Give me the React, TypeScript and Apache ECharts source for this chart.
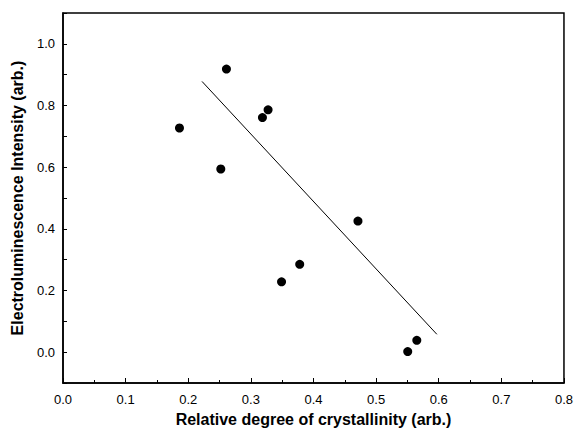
import React, { useEffect, useRef } from "react";
import * as echarts from "echarts";

const crystallinity = [0.186, 0.261, 0.3275, 0.3185, 0.252, 0.471, 0.378, 0.349, 0.565, 0.5505];
const intensity = [0.727, 0.918, 0.786, 0.761, 0.594, 0.425, 0.285, 0.228, 0.0385, 0.002];
const fitX = [0.222, 0.597];
const fitY = [0.878, 0.058];

const FONT = "'Liberation Sans', Arial, sans-serif";

export default function App() {
  const ref = useRef<HTMLDivElement>(null);
  useEffect(() => {
    document.body.style.margin = "0";
    if (!ref.current) return;
    const chart = echarts.init(ref.current, undefined, { renderer: "svg" });
    const points = crystallinity.map((x, i) => [x, intensity[i]]);
    const fit = fitX.map((x, i) => [x, fitY[i]]);
    chart.setOption({
      animation: false,
      backgroundColor: "#fff",
      textStyle: { fontFamily: FONT },
      grid: {
        left: 63,
        right: 9,
        top: 13,
        bottom: 45,
        show: true,
        borderColor: "#000",
        borderWidth: 1.5,
      },
      xAxis: {
        type: "value",
        min: 0,
        max: 0.8,
        interval: 0.1,
        name: "Relative degree of crystallinity (arb.)",
        nameLocation: "middle",
        nameGap: 28,
        nameTextStyle: { fontSize: 16, fontWeight: "bold", color: "#000", fontFamily: FONT },
        axisLine: { show: true, onZero: false, lineStyle: { color: "#000", width: 1.5 } },
        axisTick: { show: true, inside: true, length: 5, lineStyle: { color: "#000" } },
        minorTick: { show: true, splitNumber: 2, length: 3, lineStyle: { color: "#000" } },
        splitLine: { show: false },
        axisLabel: {
          color: "#000",
          fontSize: 13,
          margin: 10,
          fontFamily: FONT,
          formatter: (v: number) => v.toFixed(1),
        },
      },
      yAxis: {
        type: "value",
        min: -0.1,
        max: 1.1,
        interval: 0.1,
        name: "Electroluminescence Intensity (arb.)",
        nameLocation: "middle",
        nameGap: 38,
        nameTextStyle: { fontSize: 16, fontWeight: "bold", color: "#000", fontFamily: FONT },
        axisLine: { show: true, onZero: false, lineStyle: { color: "#000", width: 1.5 } },
        axisTick: { show: true, inside: true, length: 4, lineStyle: { color: "#000" } },
        splitLine: { show: false },
        axisLabel: {
          color: "#000",
          fontSize: 13,
          margin: 8,
          fontFamily: FONT,
          formatter: (v: number) => {
            const k = Math.round(v * 10);
            if (k < 0 || k > 10 || k % 2 !== 0) return "";
            return (k / 10).toFixed(1);
          },
        },
      },
      series: [
        {
          type: "line",
          data: fit,
          symbol: "none",
          lineStyle: { color: "#000", width: 1 },
          z: 2,
        },
        {
          type: "scatter",
          data: points,
          symbol: "circle",
          symbolSize: 9,
          itemStyle: { color: "#000", opacity: 1 },
          z: 3,
        },
      ],
    });
    return () => chart.dispose();
  }, []);
  return <div ref={ref} style={{ width: 576, height: 432 }} />;
}
